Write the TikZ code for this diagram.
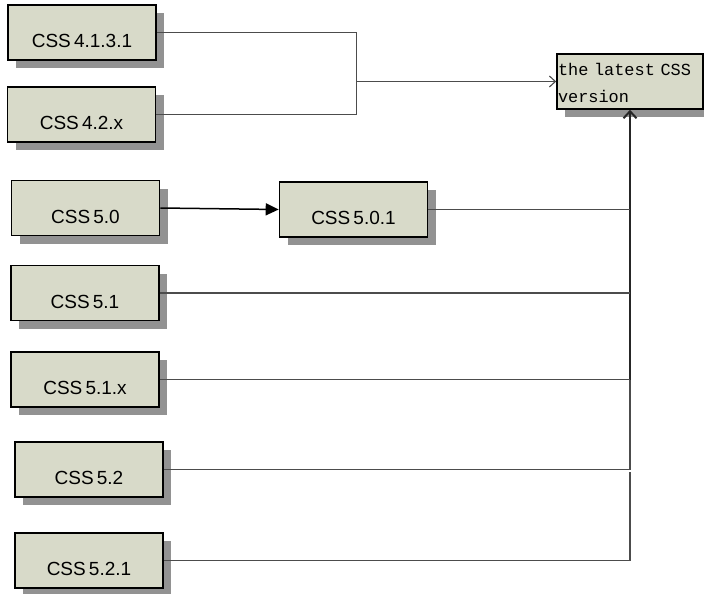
\documentclass[tikz,border=0pt]{standalone}
\usepackage{fontspec}
\setmainfont{Liberation Sans}
\newfontfamily\monofnt{Liberation Mono}
\usetikzlibrary{arrows.meta,shadows,calc}
\definecolor{boxfill}{HTML}{D8DAC9}
\definecolor{shadowgray}{RGB}{146,146,146}
\begin{document}
\begin{tikzpicture}[x=1pt,y=-1pt,
  boxshadow/.style={drop shadow={shadow xshift=8pt,shadow yshift=-8pt,fill=shadowgray,opacity=1}},
  cssbox/.style={draw=black, line width=1.6pt, fill=boxfill, minimum width=148pt,
    minimum height=55pt, inner sep=0pt, text height=30pt, text depth=0pt,
    font=\fontsize{19}{22}\selectfont, boxshadow},
  latestbox/.style={draw=black, line width=1.6pt, fill=boxfill, minimum height=55pt,
    text width=144pt, inner xsep=1pt, inner ysep=0pt, align=left,
    font=\monofnt\fontsize{16.9}{27.5}\selectfont, boxshadow},
  conn/.style={draw=black!70, line width=1.1pt},
  trunk/.style={draw=black!85, line width=2pt, -{Straight Barb[length=7pt,width=13pt]}},
  inarrow/.style={draw=black!70, line width=1.1pt, -{Straight Barb[length=6pt,width=11pt]}},
  solidarrow/.style={draw=black, line width=1.5pt, -{Triangle[length=13pt,width=12pt]}}]
\useasboundingbox (0,0) rectangle (704,594);
\node[cssbox] (b1) at (82,32.5) {CSS\,4.1.3.1};
\node[cssbox] (b2) at (81.5,114.5) {CSS\,4.2.x};
\node[cssbox] (b3) at (85.5,208) {CSS\,5.0};
\node[cssbox] (b4) at (353.5,209.5) {CSS\,5.0.1};
\node[cssbox] (b5) at (85,293) {CSS\,5.1};
\node[cssbox] (b6) at (85,379.5) {CSS\,5.1.x};
\node[cssbox] (b7) at (89,469.5) {CSS\,5.2};
\node[cssbox] (b8) at (89,560.5) {CSS\,5.2.1};
\node[latestbox] (latest) at (630,81.5) {\rule{0pt}{15.3pt}the latest CSS\\version};
% top group
\coordinate (j1) at ($(latest.west)+(-200,0)$);
\draw[conn] (b1.east) -| (j1);
\draw[conn] (b2.east) -| (j1);
\draw[inarrow] (j1) -- (latest.west);
% 5.0 -> 5.0.1
\draw[solidarrow] (b3.east) -- (b4.west);
% trunk
\coordinate (t6) at (latest.south |- b6.east);
\draw[trunk] (t6) -- (latest.south);
\draw[conn] (b4.east) -- (latest.south |- b4.east);
\draw[conn] (b5.east) -- (latest.south |- b5.east);
\draw[conn] (b6.east) -- (t6);
\draw[conn] (b7.east) -| (t6);
\coordinate (g) at ($(latest.south |- b7.east)+(0,2.5)$);
\draw[conn] (b8.east) -| (g);
\end{tikzpicture}
\end{document}
